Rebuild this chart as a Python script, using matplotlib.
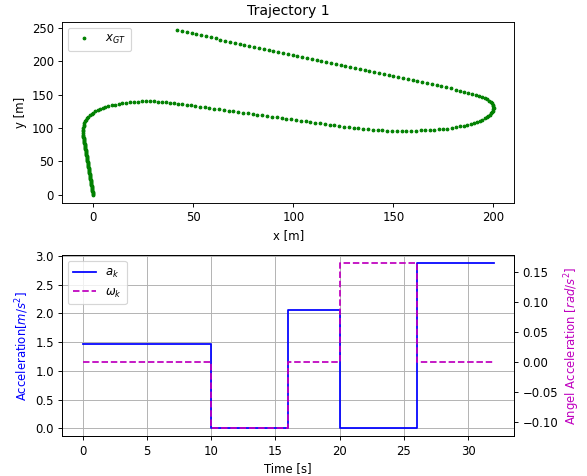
"""
Ground-truth trajectory and the control inputs that drive it.
"""

import matplotlib
matplotlib.use("Agg")
import matplotlib.pyplot as plt

# ground-truth positions [m], in driving order
gt_x = [
    0.00, -0.08, -0.17, -0.25, -0.34, -0.42, -0.51, -0.59, -0.68, -0.76,
    -0.85, -0.93, -1.02, -1.10, -1.19, -1.27, -1.36, -1.44, -1.53, -1.61,
    -1.70, -1.78, -1.86, -1.95, -2.03, -2.12, -2.20, -2.29, -2.37, -2.46,
    -2.54, -2.63, -2.71, -2.80, -2.88, -2.97, -3.05, -3.14, -3.22, -3.31,
    -3.39, -3.47, -3.56, -3.64, -3.73, -3.81, -3.90, -3.98, -4.07, -4.15,
    -4.24, -4.32, -4.41, -4.49, -4.58, -4.66, -4.75, -4.83, -4.92, -5.00, -5.08,
    -5.20, -5.15, -5.05, -4.95, -4.80, -4.60, -4.35, -4.00, -3.55, -3.00,
    -2.35, -1.60, -0.80, 0.10, 1.10, 2.20, 3.40, 4.70, 6.10, 7.60,
    9.20, 10.9, 12.7, 14.6, 16.5, 18.4, 20.4, 22.4, 24.4, 26.4,
    28.4, 30.4, 32.4, 34.4, 36.4, 38.4, 40.4, 42.5, 44.6, 46.7, 48.8, 50.9,
    53.3, 55.7, 58.1, 60.5, 62.9, 65.3, 67.7, 70.1, 72.5, 74.9,
    77.3, 79.7, 82.1, 84.5, 86.9, 89.3, 91.7, 94.1, 96.5, 98.9,
    101.3, 103.7, 106.1, 108.5, 110.9, 113.3, 115.7, 118.1, 120.5, 122.9,
    125.3, 127.7, 130.1, 132.5, 134.9, 137.3, 139.7, 142.1, 144.5, 146.9,
    149.3, 151.7, 154.1, 156.5, 158.9, 161.3, 163.7,
    166.0, 168.3, 170.5, 172.6, 174.8, 177.0, 179.1, 181.2, 183.2, 185.1,
    186.9, 188.6, 190.2, 191.7, 193.1, 194.4, 195.6, 196.6, 197.5, 198.3,
    198.9, 199.4, 199.8, 200.0, 200.1,
    200.0, 199.8, 199.4, 198.8, 198.0, 197.0, 195.8, 194.4, 192.8, 191.1,
    189.3, 187.4, 185.4, 183.3, 181.2,
    178.8, 176.4, 174.0, 171.6, 169.2, 166.8, 164.4, 162.0, 159.6, 157.2,
    154.8, 152.4, 150.0, 147.6, 145.2, 142.8, 140.4, 138.0, 135.6, 133.2,
    130.8, 128.4, 126.0, 123.6, 121.2, 118.8, 116.4, 114.0, 111.6, 109.2,
    106.8, 104.4, 102.0, 99.6, 97.2, 94.8, 92.4, 90.0, 87.6, 85.2,
    82.8, 80.4, 78.0, 75.6, 73.2, 70.8, 68.4, 66.0, 63.6, 61.2,
    58.8, 56.4, 54.0, 51.6, 49.2, 46.8, 44.4, 42.0,
]
gt_y = [
    0.0, 1.5, 3.0, 4.5, 6.0, 7.5, 9.0, 10.5, 12.0, 13.5,
    15.0, 16.5, 18.0, 19.5, 21.0, 22.5, 24.0, 25.5, 27.0, 28.5,
    30.0, 31.5, 33.0, 34.5, 36.0, 37.5, 39.0, 40.5, 42.0, 43.5,
    45.0, 46.5, 48.0, 49.5, 51.0, 52.5, 54.0, 55.5, 57.0, 58.5,
    60.0, 61.5, 63.0, 64.5, 66.0, 67.5, 69.0, 70.5, 72.0, 73.5,
    75.0, 76.5, 78.0, 79.5, 81.0, 82.5, 84.0, 85.5, 87.0, 88.5, 90.0,
    92.5, 95.0, 97.5, 100.0, 102.5, 105.0, 107.5, 110.0, 112.4, 114.7,
    116.9, 119.0, 121.0, 122.9, 124.7, 126.4, 128.0, 129.6, 131.0, 132.4,
    133.6, 134.8, 135.8, 136.8, 137.6, 138.4, 139.0, 139.5, 139.8, 140.0,
    140.0, 139.8, 139.4, 139.0, 138.4, 137.7, 137.0, 136.2, 135.4, 134.6, 133.7, 132.8,
    131.8, 130.8, 129.8, 128.8, 127.8, 126.8, 125.8, 124.8, 123.8, 122.8,
    121.8, 120.8, 119.8, 118.8, 117.8, 116.8, 115.8, 114.8, 113.8, 112.8,
    111.8, 110.8, 109.8, 108.8, 107.8, 106.8, 105.8, 104.8, 103.8, 102.8,
    101.9, 101.0, 100.1, 99.3, 98.6, 97.9, 97.3, 96.8, 96.4, 96.0,
    95.8, 95.6, 95.5, 95.5, 95.6, 95.8, 96.1,
    96.5, 96.9, 97.2, 97.6, 98.2, 99.0, 100.0, 101.1, 102.3, 103.5,
    104.8, 106.2, 107.6, 109.1, 110.7, 112.4, 114.2, 116.1, 118.0, 120.0,
    122.0, 124.0, 126.0, 128.0, 130.0,
    132.2, 134.4, 136.6, 138.8, 140.9, 142.9, 144.8, 146.6, 148.4, 150.0,
    151.4, 152.7, 154.1, 155.8, 157.5,
    159.4, 161.2, 163.1, 164.8, 166.3, 167.8, 169.1, 170.5, 171.9, 173.3,
    174.6, 176.0, 177.4, 178.9, 180.4, 181.8, 183.3, 184.8, 186.3, 187.7,
    189.2, 190.7, 192.1, 193.6, 195.1, 196.6, 198.2, 199.7, 201.3, 202.9,
    204.4, 206.0, 207.5, 209.1, 210.7, 212.2, 213.8, 215.4, 216.9, 218.5,
    220.0, 221.6, 223.2, 224.7, 226.3, 227.9, 229.4, 231.0, 232.5, 234.1,
    235.7, 237.2, 238.8, 240.4, 241.9, 243.5, 245.0, 246.6,
]

# piecewise-constant inputs: value holds from each knot to the next
t_knots = [0, 10, 16, 20, 26, 32]
accel = [1.47, 0.0, 2.05, 0.0, 2.87, 2.87]          # a_k [m/s^2]
ang_accel = [0.0, -0.11, 0.0, 0.164, 0.0, 0.0]      # omega_k [rad/s^2]

DPI = 84
fig = plt.figure(figsize=(587 / DPI, 476 / DPI), dpi=DPI)
ax_traj = fig.add_axes([0.106, 0.574, 0.770, 0.380])
ax_acc = fig.add_axes([0.106, 0.083, 0.770, 0.381])

# trajectory
ax_traj.plot(gt_x, gt_y, ".", color="green", markersize=4.5, label=r"$x_{GT}$")
ax_traj.set_title("Trajectory 1")
ax_traj.set_xlabel("x [m]")
ax_traj.set_ylabel("y [m]")
ax_traj.legend(loc="upper left")

# inputs
line_a, = ax_acc.step(t_knots, accel, where="post", color="b", label=r"$a_k$")
ax_acc.set_xlabel("Time [s]")
ax_acc.set_ylabel(r"Acceleration$[m/s^2]$", color="b")
ax_acc.grid(True)

ax_ang = ax_acc.twinx()
line_w, = ax_ang.step(t_knots, ang_accel, where="post", color="m",
                      linestyle="--", label=r"$\omega_k$")
ax_ang.set_ylabel(r"Angel Acceleration $[rad/s^2]$", color="m")

handles = [line_a, line_w]
ax_ang.legend(handles, [h.get_label() for h in handles], loc="upper left")

fig.savefig("out.png", dpi=DPI)
